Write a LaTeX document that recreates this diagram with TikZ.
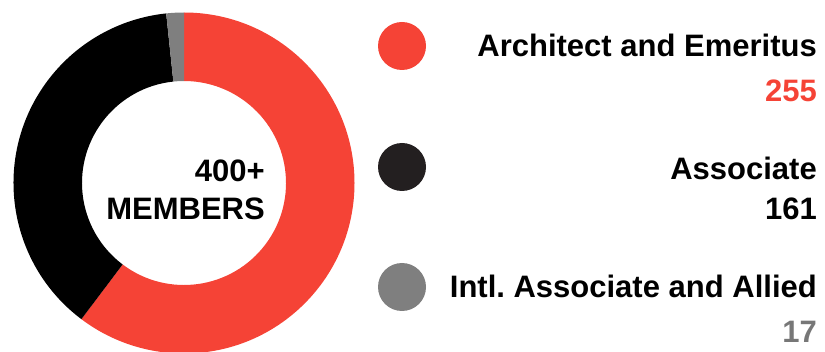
\documentclass[tikz,border=0pt]{standalone}
\usepackage{fontspec}
\setmainfont{Liberation Sans}
\frenchspacing
\definecolor{memred}{HTML}{F54336}
\definecolor{memblack}{HTML}{000000}
\definecolor{memdot}{HTML}{231F20}
\definecolor{memgray}{HTML}{7F7F7F}
\definecolor{numgray}{HTML}{777777}
\tikzset{
  label/.style = {anchor = base east, inner sep = 0pt, font = \fontsize{31}{34}\selectfont\bfseries},
  legdot/.style = {circle, minimum size = 48pt, inner sep = 0pt}
}
\begin{document}
\begin{tikzpicture}[x = 1pt, y = 1pt]
\pgfmathsetmacro\R{170.5};
\pgfmathsetmacro\r{102};
\useasboundingbox (0,0) rectangle (825,351);
\clip (0,0) rectangle (825,351);
\coordinate (ctr) at (184,168);
% ring
\foreach \a/\b/\col in {90/-127/memred, -127/-264/memblack, -264/-270/memgray}
  \fill [\col] ([shift = {(\a:\R)}]ctr) arc [start angle = \a, end angle = \b, radius = \R]
    -- ([shift = {(\b:\r)}]ctr) arc [start angle = \b, end angle = \a, radius = \r] -- cycle;
\node [label] (total) at (265,169) {400+};
\node [label] (members) at (265,131) {MEMBERS};
% legend
\node [legdot, fill = memred] (dotA) at (402,305) {};
\node [legdot, fill = memdot] (dotB) at (402,184) {};
\node [legdot, fill = memgray] (dotC) at (402,64) {};
\node [label] (nameA) at (817,294) {Architect and Emeritus};
\node [label, text = memred] (numA) at (817,249) {255};
\node [label] (nameB) at (817,171) {Associate};
\node [label] (numB) at (817,131) {161};
\node [label] (nameC) at (817,53) {Intl. Associate and Allied};
\node [label, text = numgray] (numC) at (817,9) {17};
\end{tikzpicture}
\end{document}
